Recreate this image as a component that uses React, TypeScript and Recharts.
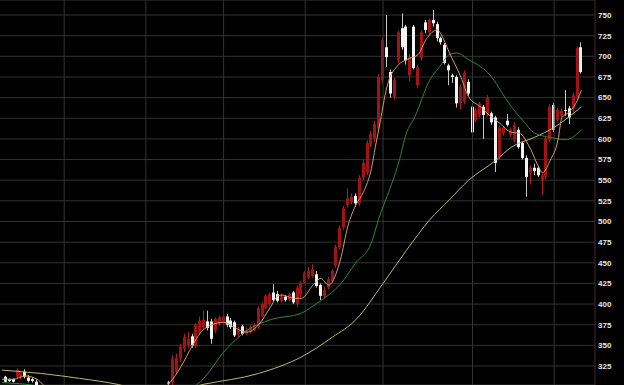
import React from "react";
import { ComposedChart, Bar, Line, XAxis, YAxis, CartesianGrid, ReferenceLine } from "recharts";

// number of day slots on the x axis (last few are empty)
const SLOTS = 153;

// [day, open, high, low, close] - red = up, white = down
const candles: [number, number, number, number, number][] = [
  [1, 312, 313, 305, 306], [2, 309, 310, 306, 307], [3, 309, 310, 305, 306],
  [4, 312, 322, 310, 320], [5, 311, 319, 309, 317], [6, 318, 321, 310, 312], [7, 311, 314, 305, 307],
  [8, 309, 311, 305, 307], [9, 306, 309, 296, 300],
  [43, 305, 307, 302, 304.5], [44, 305, 338, 302, 334], [45, 318, 340, 315, 335], [46, 334, 352, 330, 348],
  [47, 346, 364, 342, 360], [48, 350, 366, 347, 358], [49, 361, 364, 347, 350], [50, 349, 377, 347, 375],
  [51, 366, 385, 363, 380], [52, 372, 392, 370, 381], [53, 379, 392, 368, 371], [54, 379, 382, 352, 358],
  [55, 368, 384, 365, 382], [56, 376, 386, 374, 384], [57, 378, 387, 376, 385], [58, 385, 388, 372, 375],
  [59, 380, 383, 370, 372], [60, 378, 380, 360, 362], [61, 363, 372, 360, 369], [62, 373, 375, 362, 364],
  [63, 364, 372, 362, 369], [64, 366, 374, 364, 372], [65, 369, 377, 367, 375], [66, 372, 397, 370, 395],
  [67, 385, 402, 383, 400], [68, 395, 412, 393, 410], [69, 400, 414, 398, 412], [70, 414, 424, 403, 405],
  [71, 412, 416, 402, 404], [72, 404, 413, 402, 410], [73, 409, 411, 403, 405], [74, 405, 414, 403, 412],
  [75, 414, 416, 400, 402], [76, 400, 422, 396, 420], [77, 412, 428, 408, 426], [78, 426, 440, 424, 438],
  [79, 432, 445, 430, 440], [80, 434, 448, 432, 442], [81, 436, 440, 420, 422], [82, 423, 425, 405, 410],
  [83, 409, 421, 407, 417], [84, 420, 433, 418, 430], [85, 428, 442, 426, 440], [86, 447, 472, 444, 469],
  [87, 469, 495, 466, 492], [88, 493, 519, 490, 516], [89, 520, 540, 517, 528], [90, 524, 534, 521, 530],
  [91, 531, 534, 518, 522], [92, 522, 556, 519, 553], [93, 553, 574, 550, 571], [94, 559, 598, 556, 595],
  [95, 594, 610, 590, 606], [96, 600, 622, 596, 618], [97, 613, 678, 610, 675], [98, 671, 723, 668, 720],
  [99, 711, 750, 687, 699], [100, 681, 684, 650, 655], [101, 651, 674, 648, 671], [102, 695, 731, 692, 729],
  [103, 734, 752, 708, 711], [104, 736, 738, 690, 695], [105, 677, 703, 670, 699], [106, 736, 738, 684, 686],
  [107, 665, 690, 662, 687], [108, 698, 731, 695, 729], [109, 741, 744, 728, 732], [110, 729, 746, 726, 744],
  [111, 744, 756, 736, 740], [112, 739, 742, 718, 722], [113, 722, 724, 714, 717], [114, 714, 716, 690, 692],
  [115, 689, 691, 665, 683], [116, 677, 679, 668, 675], [117, 675, 677, 638, 643], [118, 643, 666, 636, 663],
  [119, 645, 683, 642, 680], [120, 669, 672, 652, 655], [121, 639, 642, 596, 608], [122, 622, 638, 620, 635],
  [123, 629, 645, 626, 643], [124, 639, 641, 600, 629], [125, 629, 653, 627, 650], [126, 631, 633, 617, 620],
  [127, 626, 628, 560, 571], [128, 578, 616, 575, 614], [129, 607, 616, 604, 614], [130, 622, 630, 615, 617],
  [131, 605, 614, 602, 611], [132, 599, 620, 596, 617], [133, 611, 614, 588, 590], [134, 595, 597, 575, 577],
  [135, 577, 580, 530, 554], [136, 559, 568, 545, 565], [137, 565, 570, 556, 561], [138, 565, 567, 554, 556],
  [139, 550, 558, 532, 556], [140, 554, 604, 551, 601], [141, 599, 642, 596, 639], [142, 641, 644, 608, 611],
  [143, 623, 638, 620, 635], [144, 628, 637, 625, 634], [145, 635, 659, 628, 634], [146, 637, 640, 618, 626],
  [147, 637, 656, 632, 653], [148, 651, 712, 648, 710], [149, 711, 717, 679, 681],
];

// moving averages: [day, value]
const ma5Pts: [number, number][] = [
  [0, 309], [3, 309], [6, 313], [9, 309], [12, 298], [41, 295], [43, 304], [46, 324], [49, 350], [51, 365],
  [54, 375], [57, 378], [60, 371], [63, 366], [66, 375], [69, 396], [71, 410], [72, 411], [75, 407], [77, 407],
  [80, 423], [82, 431], [84, 423], [87, 453], [89, 495], [91, 520], [93, 536], [95, 564], [96, 590], [97, 614],
  [99, 663], [102, 690], [104, 696], [107, 702], [109, 720], [112, 732], [113, 726], [115, 705], [118, 675],
  [120, 651], [123, 639], [125, 630], [128, 619], [131, 608], [133, 607], [136, 587], [138, 566], [139, 559],
  [141, 574], [143, 599], [144, 626], [146, 633], [148, 647], [149, 659],
];
const ma20Pts: [number, number][] = [
  [0, 305], [3, 304], [6, 303], [10, 300], [14, 296], [46, 296], [50, 302], [58, 347], [63, 368], [69, 381],
  [77, 389], [81, 401], [84, 411], [87, 424], [91, 450], [95, 474], [97, 505], [99, 530], [102, 571], [104, 607],
  [106, 625], [110, 671], [113, 690], [115, 702], [117, 704], [120, 696], [125, 680], [131, 639], [134, 622],
  [137, 607], [142, 601], [145, 599], [149, 611],
];
const ma60Pts: [number, number][] = [
  [0, 320], [10, 316], [20, 310], [30, 302.5], [34, 298], [48, 299], [52, 303], [66, 316], [77, 336], [85, 360],
  [91, 381], [98, 425], [104, 465], [110, 502], [115, 526], [120, 550], [127, 574], [131, 590], [137, 602],
  [142, 614], [148, 635], [149, 639],
];

const monthStarts = [16, 37, 57, 78, 98, 121, 142];
const priceTicks = [325, 350, 375, 400, 425, 450, 475, 500, 525, 550, 575, 600, 625, 650, 675, 700, 725, 750];

type Row = {
  i: number;
  o: number | null; h: number | null; l: number | null; c: number | null;
  ma5: number | null; ma20: number | null; ma60: number | null;
};

const data: Row[] = Array.from({ length: SLOTS }, (_, i) => ({
  i, o: null, h: null, l: null, c: null, ma5: null, ma20: null, ma60: null,
}));
candles.forEach(([i, o, h, l, c]) => Object.assign(data[i], { o, h, l, c }));
ma5Pts.forEach(([i, v]) => (data[i].ma5 = v));
ma20Pts.forEach(([i, v]) => (data[i].ma20 = v));
ma60Pts.forEach(([i, v]) => (data[i].ma60 = v));

function Candle(props: any) {
  const { x, y, width, height, payload } = props;
  if (payload == null || payload.h == null) return null;
  const { o, h, l, c } = payload;
  const top = Math.min(y, y + height);
  const span = Math.abs(height);
  const k = h === l ? 0 : span / (h - l);
  const py = (v: number) => top + (h - v) * k;
  const up = c > o;
  const bodyTop = py(Math.max(o, c));
  const bodyH = Math.max(1, py(Math.min(o, c)) - bodyTop);
  const bx = Math.round(x);
  const cx = bx + 1.5;
  return (
    <g>
      <line x1={cx} x2={cx} y1={top} y2={top + span} stroke={up ? "#b81c1c" : "#c8c8c8"} strokeWidth={1} />
      <rect x={bx} y={bodyTop} width={3} height={bodyH} fill={up ? "#a31313" : "#f4f4f4"} />
    </g>
  );
}

export default function App() {
  return (
    <div style={{ position: "absolute", left: 0, top: 0, width: 624, height: 385, background: "#000" }}>
      <ComposedChart width={624} height={385} data={data} margin={{ top: 0, right: 0, bottom: 0, left: 0 }}>
        <CartesianGrid vertical={false} stroke="#333" />
        {monthStarts.map((m) => (
          <ReferenceLine key={m} x={m} stroke="#333" />
        ))}
        <XAxis dataKey="i" type="category" hide />
        <YAxis
          orientation="right"
          type="number"
          width={29}
          domain={[302, 768.2]}
          allowDataOverflow
          ticks={priceTicks}
          interval={0}
          tickLine={false}
          tickSize={0}
          tickMargin={3}
          axisLine={{ stroke: "#4a2828" }}
          tick={{ fill: "#e6e6e6", fontSize: 8, fontWeight: 700, fontFamily: "'Liberation Sans', Arial, sans-serif" }}
        />
        <Bar
          dataKey={(d: Row) => (d.h == null ? null : [d.l, d.h])}
          barSize={3}
          shape={(p: any) => <Candle {...p} />}
          activeBar={false}
          isAnimationActive={false}
        />
        <Line dataKey="ma60" stroke="#bdb86a" strokeWidth={1} dot={false} activeDot={false} connectNulls type="monotone" isAnimationActive={false} />
        <Line dataKey="ma20" stroke="#2c8a34" strokeWidth={1} dot={false} activeDot={false} connectNulls type="monotone" isAnimationActive={false} />
        <Line dataKey="ma5" stroke="#d59a6c" strokeWidth={1} dot={false} activeDot={false} connectNulls type="monotone" isAnimationActive={false} />
      </ComposedChart>
    </div>
  );
}
